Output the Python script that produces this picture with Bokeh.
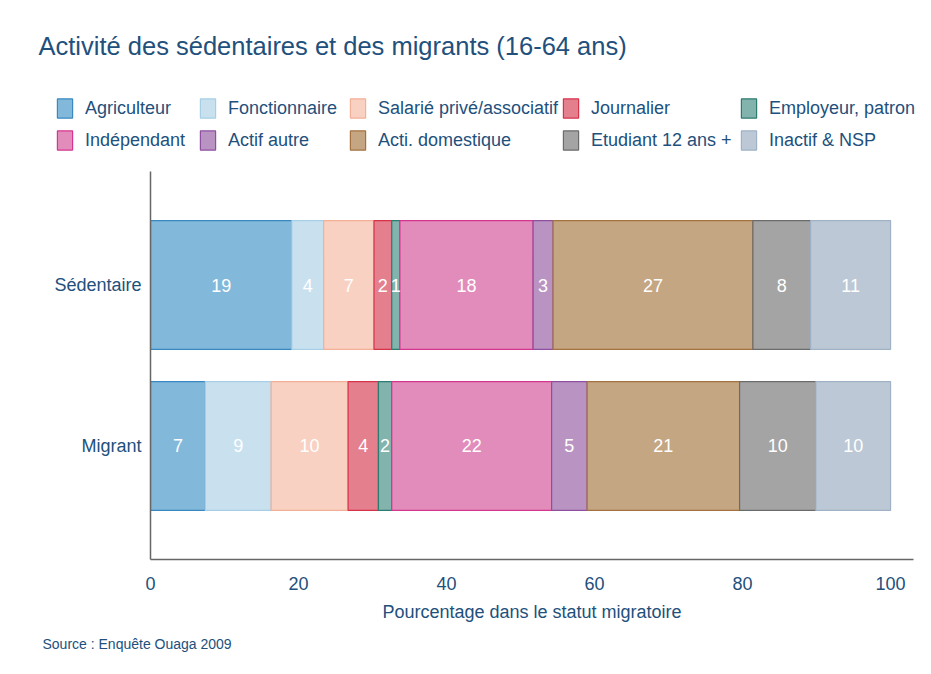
from bokeh.plotting import figure
from bokeh.models import Range1d, FixedTicker, Legend, LegendItem, Title, Label, ColumnDataSource
from bokeh.core.properties import value
from bokeh.embed import file_html
from bokeh.resources import INLINE

# ---- data ----
groups = ["Migrant", "Sédentaire"]
categories = ["Agriculteur", "Fonctionnaire", "Salarié privé/associatif", "Journalier",
              "Employeur, patron", "Indépendant", "Actif autre", "Acti. domestique",
              "Etudiant 12 ans +", "Inactif & NSP"]
sedentaire = [19.1, 4.3, 6.8, 2.4, 1.1, 18.0, 2.7, 27.0, 7.8, 10.8]
migrant = [7.4, 8.9, 10.4, 4.1, 1.8, 21.6, 4.8, 20.6, 10.3, 10.1]
x_ticks = [0, 20, 40, 60, 80, 100]

# ---- styles ----
fills = ["#82b8d9", "#c9e1ef", "#f8d1c2", "#e47f8e", "#82b3ad",
         "#e28cbb", "#b994c2", "#c4a683", "#a4a4a4", "#bcc8d5"]
lines = ["#3a88c2", "#a6cfe6", "#f4b096", "#d6334a", "#2c7b6f",
         "#d4368e", "#8e4fa0", "#a4723f", "#6b6b6b", "#9fb2c6"]
FONT = "Liberation Sans"
TXT = "#22507c"
W = 923
HEAD_H = 160

data = {"y": [1, 0]}
for i, c in enumerate(categories):
    data[c] = [sedentaire[i], migrant[i]]
src = ColumnDataSource(data)

# ---------------- header: title + legend ----------------
h = figure(width=W, height=HEAD_H, output_backend="svg", toolbar_location=None,
           x_range=Range1d(0, W), y_range=Range1d(HEAD_H, 0),
           x_axis_type=None, y_axis_type=None,
           min_border_left=0, min_border_right=0, min_border_top=0, min_border_bottom=0)
h.outline_line_color = None
h.xgrid.visible = False
h.ygrid.visible = False
h_rend = h.hbar_stack(stackers=categories, y="y", height=0.8, source=src,
                      fill_color=fills, line_color=lines, line_width=1.2)
for r in h_rend:
    r.visible = False

h.add_layout(Label(x=38, y=45, text="Activité des sédentaires et des migrants (16-64 ans)",
                   text_font=FONT, text_font_size="25.5px", text_color=TXT,
                   text_baseline="alphabetic"))

col_x = [55, 198, 348, 561, 739]
for col in range(5):
    its = [LegendItem(label=categories[col], renderers=[h_rend[col]]),
           LegendItem(label=categories[col + 5], renderers=[h_rend[col + 5]])]
    lg = Legend(items=its, location=(col_x[col], 8), orientation="vertical",
                glyph_width=19, glyph_height=24, label_height=24, label_standoff=11,
                spacing=8, padding=0, margin=0, border_line_alpha=0,
                background_fill_alpha=0, label_text_font=FONT,
                label_text_font_size="18px", label_text_color=TXT,
                label_text_baseline="middle", click_policy="none")
    h.add_layout(lg)

# ---------------- main chart ----------------
p = figure(width=W, height=666 - HEAD_H, output_backend="svg", toolbar_location=None,
           x_range=Range1d(0, 103.1), y_range=Range1d(-0.705, 1.705),
           min_border_left=150, min_border_right=10, min_border_top=171 - HEAD_H,
           min_border_bottom=107)
p.outline_line_color = None
p.xgrid.visible = False
p.ygrid.visible = False
p.background_fill_color = "white"

renderers = p.hbar_stack(stackers=categories, y="y", height=0.8, source=src,
                         fill_color=fills, line_color=lines, line_width=1.2)

# value labels
lx, ly, lt = [], [], []
for yv, vals in ((1, sedentaire), (0, migrant)):
    left = 0.0
    for v in vals:
        lx.append(left + v / 2)
        ly.append(yv)
        lt.append(str(int(round(v))))
        left += v
p.text(x=lx, y=ly, text=lt, text_color="white", text_font=value(FONT),
       text_font_size="18px", text_align="center", text_baseline="middle")

# axes
p.xaxis.ticker = FixedTicker(ticks=x_ticks)
p.xaxis.axis_label = "Pourcentage dans le statut migratoire"
p.xaxis.axis_label_text_font = FONT
p.xaxis.axis_label_text_font_size = "18px"
p.xaxis.axis_label_text_font_style = "normal"
p.xaxis.axis_label_text_color = TXT
p.xaxis.axis_label_standoff = 9
p.xaxis.major_label_text_font = FONT
p.xaxis.major_label_text_font_size = "18px"
p.xaxis.major_label_text_color = TXT
p.xaxis.major_label_standoff = 17
p.xaxis.major_tick_out = 0
p.xaxis.major_tick_in = 0
p.xaxis.minor_tick_out = 0
p.xaxis.minor_tick_in = 0
p.xaxis.axis_line_color = "#666666"
p.xaxis.axis_line_width = 1.5

p.yaxis.ticker = FixedTicker(ticks=[0, 1])
p.yaxis.major_label_overrides = {0: groups[0], 1: groups[1]}
p.yaxis.major_label_text_font = FONT
p.yaxis.major_label_text_font_size = "18px"
p.yaxis.major_label_text_color = TXT
p.yaxis.major_label_standoff = 9
p.yaxis.major_tick_out = 0
p.yaxis.major_tick_in = 0
p.yaxis.minor_tick_out = 0
p.yaxis.minor_tick_in = 0
p.yaxis.axis_line_color = "#666666"
p.yaxis.axis_line_width = 1.5

source = Title(text="Source : Enquête Ouaga 2009", align="left", offset=-108,
               standoff=19, text_font=FONT, text_font_size="14px",
               text_font_style="normal", text_color=TXT)
p.add_layout(source, "below")

# two independent roots, stacked vertically (no frame alignment between them)
open("out.html", "w").write(file_html([h, p], INLINE))
